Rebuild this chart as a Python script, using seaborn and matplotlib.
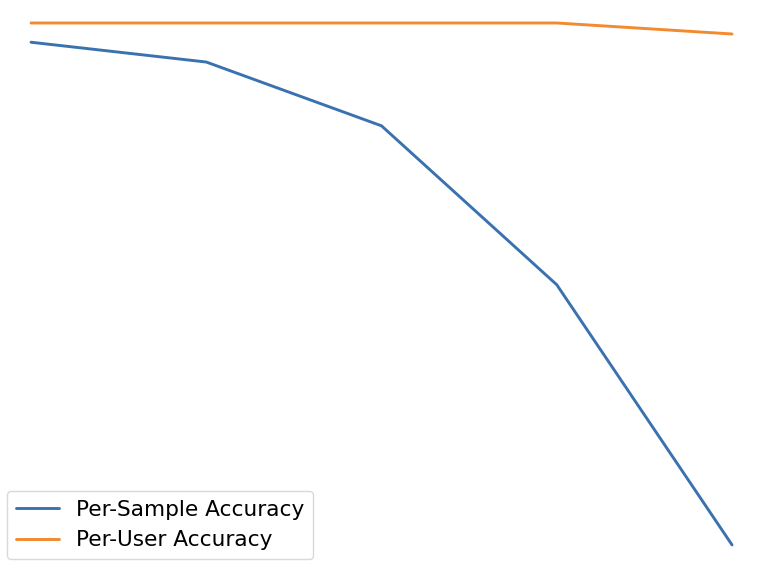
import matplotlib
matplotlib.use("Agg")
import matplotlib.pyplot as plt
import seaborn as sns
import pandas as pd

# x positions (unlabelled steps) and accuracy values
steps = [0, 1, 2, 3, 4]
per_sample_acc = [0.965, 0.929, 0.813, 0.524, 0.051]
per_user_acc = [1.0, 1.0, 1.0, 1.0, 0.98]

df = pd.DataFrame({
    "step": steps * 2,
    "accuracy": per_sample_acc + per_user_acc,
    "metric": ["Per-Sample Accuracy"] * len(steps) + ["Per-User Accuracy"] * len(steps),
})

sns.set_style("white")
fig = plt.figure(figsize=(7.62, 5.68), dpi=100)
ax = fig.add_axes([0, 0, 1, 1])

sns.lineplot(data=df, x="step", y="accuracy", hue="metric",
             palette=["#3a72b0", "#f28a2e"], linewidth=2.1, ax=ax)

ax.set_xlim(-0.177, 4.171)
ax.set_ylim(0.009, 1.0418)
ax.axis("off")

leg = ax.legend(loc="lower left", bbox_to_anchor=(7 / 762, 9 / 568), borderaxespad=0,
                fontsize=15.6, frameon=True, handlelength=2.0, borderpad=0.4,
                labelcolor="black")
leg.get_frame().set_edgecolor("#d0d0d0")

fig.savefig("out.png", dpi=100)
